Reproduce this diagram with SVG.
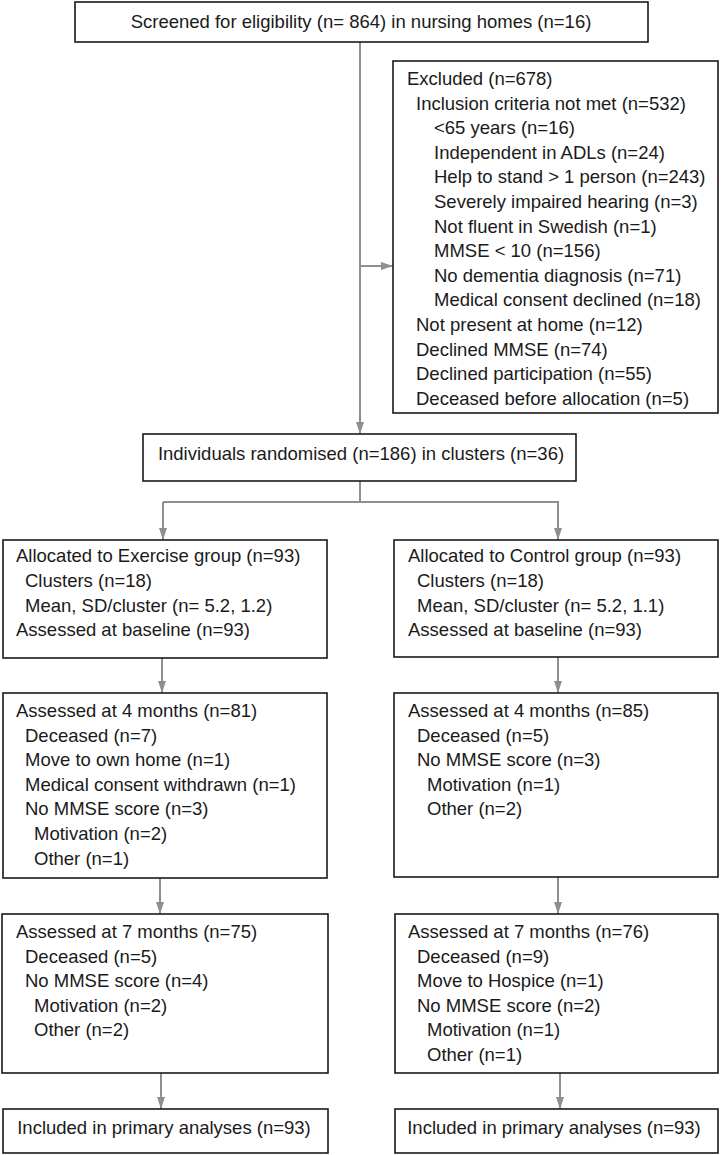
<svg xmlns="http://www.w3.org/2000/svg" width="721" height="1155" viewBox="0 0 721 1155">
<style>
.box{fill:#fff;stroke:#1a1a1a;stroke-width:1.6}
text{font-family:"Liberation Sans",Arial,sans-serif;font-size:18.5px;fill:#1a1a1a}
.c{text-anchor:middle}
.ln{fill:none;stroke:#8f8f8f;stroke-width:2}
</style>
<defs>
<marker id="ah" viewBox="0 0 12 8" refX="12" refY="4" markerWidth="6" markerHeight="4" orient="auto" markerUnits="strokeWidth">
<path d="M0,0 L12,4 L0,8 z" fill="#8f8f8f"/>
</marker>
</defs>
<g id="connectors">
<path class="ln" d="M360 42 V434" marker-end="url(#ah)"/>
<path class="ln" d="M360 266 H393" marker-end="url(#ah)"/>
<path class="ln" d="M360 481 V502 M163 502 H559"/>
<path class="ln" d="M163 502 V540" marker-end="url(#ah)"/>
<path class="ln" d="M558 502 V540" marker-end="url(#ah)"/>
<path class="ln" d="M162 658 V693" marker-end="url(#ah)"/>
<path class="ln" d="M558 657 V693" marker-end="url(#ah)"/>
<path class="ln" d="M160 878 V914" marker-end="url(#ah)"/>
<path class="ln" d="M558 877 V914" marker-end="url(#ah)"/>
<path class="ln" d="M161 1073 V1109" marker-end="url(#ah)"/>
<path class="ln" d="M560 1073 V1109" marker-end="url(#ah)"/>
</g>
<g id="screened">
<rect class="box" x="75" y="2" width="573" height="40"/>
<text class="c" x="361" y="28">Screened for eligibility (n= 864) in nursing homes (n=16)</text>
</g>
<g id="excluded">
<rect class="box" x="393" y="61" width="325" height="352"/>
<text x="407" y="85">Excluded (n=678)</text>
<text x="416" y="109.6">Inclusion criteria not met (n=532)</text>
<text x="434" y="134.2">&lt;65 years (n=16)</text>
<text x="434" y="158.8">Independent in ADLs (n=24)</text>
<text x="434" y="183.4">Help to stand &gt; 1 person (n=243)</text>
<text x="434" y="208">Severely impaired hearing (n=3)</text>
<text x="434" y="232.6">Not fluent in Swedish (n=1)</text>
<text x="434" y="257.2">MMSE &lt; 10 (n=156)</text>
<text x="434" y="281.8">No dementia diagnosis (n=71)</text>
<text x="434" y="306.4">Medical consent declined (n=18)</text>
<text x="416" y="331">Not present at home (n=12)</text>
<text x="416" y="355.6">Declined MMSE (n=74)</text>
<text x="416" y="380.2">Declined participation (n=55)</text>
<text x="416" y="404.8">Deceased before allocation (n=5)</text>
</g>
<g id="randomised">
<rect class="box" x="143" y="434" width="433" height="47"/>
<text class="c" x="361" y="460">Individuals randomised (n=186) in clusters (n=36)</text>
</g>
<g id="alloc-exercise">
<rect class="box" x="3" y="540" width="324" height="118"/>
<text x="16" y="562">Allocated to Exercise group (n=93)</text>
<text x="25" y="587">Clusters (n=18)</text>
<text x="25" y="611.5">Mean, SD/cluster (n= 5.2, 1.2)</text>
<text x="16" y="636">Assessed at baseline (n=93)</text>
</g>
<g id="alloc-control">
<rect class="box" x="394" y="540" width="324" height="117"/>
<text x="408" y="562">Allocated to Control group (n=93)</text>
<text x="417" y="587">Clusters (n=18)</text>
<text x="417" y="611.5">Mean, SD/cluster (n= 5.2, 1.1)</text>
<text x="408" y="636">Assessed at baseline (n=93)</text>
</g>
<g id="ex-4m">
<rect class="box" x="3" y="693" width="324" height="185"/>
<text x="16" y="717">Assessed at 4 months (n=81)</text>
<text x="25" y="741.6">Deceased (n=7)</text>
<text x="25" y="766.2">Move to own home (n=1)</text>
<text x="25" y="790.8">Medical consent withdrawn (n=1)</text>
<text x="25" y="815.4">No MMSE score (n=3)</text>
<text x="34" y="840">Motivation (n=2)</text>
<text x="34" y="864.6">Other (n=1)</text>
</g>
<g id="co-4m">
<rect class="box" x="394" y="693" width="324" height="184"/>
<text x="408" y="717">Assessed at 4 months (n=85)</text>
<text x="417" y="741.6">Deceased (n=5)</text>
<text x="417" y="766.2">No MMSE score (n=3)</text>
<text x="427" y="790.8">Motivation (n=1)</text>
<text x="427" y="815.4">Other (n=2)</text>
</g>
<g id="ex-7m">
<rect class="box" x="2" y="914" width="326" height="159"/>
<text x="16" y="938">Assessed at 7 months (n=75)</text>
<text x="25" y="962.6">Deceased (n=5)</text>
<text x="25" y="987.2">No MMSE score (n=4)</text>
<text x="34" y="1011.8">Motivation (n=2)</text>
<text x="34" y="1036.4">Other (n=2)</text>
</g>
<g id="co-7m">
<rect class="box" x="395" y="914" width="323" height="159"/>
<text x="408" y="938">Assessed at 7 months (n=76)</text>
<text x="417" y="962.6">Deceased (n=9)</text>
<text x="417" y="987.2">Move to Hospice (n=1)</text>
<text x="417" y="1011.8">No MMSE score (n=2)</text>
<text x="427" y="1036.4">Motivation (n=1)</text>
<text x="427" y="1061">Other (n=1)</text>
</g>
<g id="ex-included">
<rect class="box" x="3" y="1109" width="325" height="44"/>
<text class="c" x="164" y="1134">Included in primary analyses (n=93)</text>
</g>
<g id="co-included">
<rect class="box" x="395" y="1109" width="323" height="44"/>
<text class="c" x="554" y="1134">Included in primary analyses (n=93)</text>
</g>
</svg>
